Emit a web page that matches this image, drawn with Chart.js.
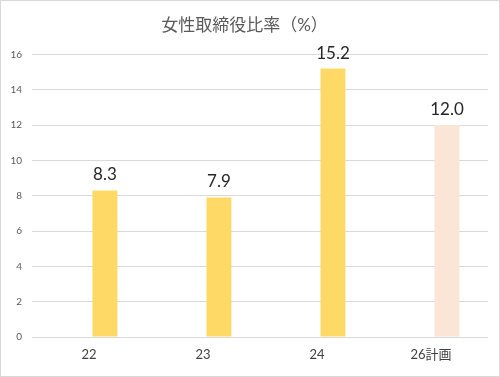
<!DOCTYPE html>
<html>
<head>
<meta charset="utf-8">
<script src="https://cdn.jsdelivr.net/npm/chart.js@4"></script>
<style>
  html, body { margin: 0; padding: 0; background: #fff; }
  #wrap { width: 500px; height: 377px; box-sizing: border-box; border: 1px solid #d9d9d9; position: relative; }
  canvas { position: absolute; left: 0; top: 0; }
</style>
</head>
<body>
<div id="wrap"><canvas id="chart" width="500" height="377"></canvas></div>
<script>
const categories = ["22", "23", "24", "26計画"];
const ratios = [8.3, 7.9, 15.2, 12.0];
const barColors = ["#FFD966", "#FFD966", "#FFD966", "#FBE5D6"];
const yTicks = [0, 2, 4, 6, 8, 10, 12, 14, 16];

const FONT = "Lato, 'Noto Sans CJK JP', sans-serif";

// draws the value above each bar
const valueLabels = {
    id: "valueLabels",
    afterDatasetsDraw(chart) {
        const ctx = chart.ctx;
        const meta = chart.getDatasetMeta(1);
        ctx.save();
        ctx.font = "17px " + FONT;
        ctx.fillStyle = "#262626";
        ctx.textAlign = "center";
        ctx.textBaseline = "bottom";
        meta.data.forEach((bar, i) => {
            ctx.fillText(ratios[i].toFixed(1), bar.x, bar.y - 7);
        });
        ctx.restore();
    }
};

new Chart(document.getElementById("chart"), {
    type: "bar",
    data: {
        labels: categories,
        datasets: [
            // empty slot: the original chart has the bars shifted right of the category centre
            { data: categories.map(() => null), categoryPercentage: 0.56, barPercentage: 0.78 },
            {
                data: ratios,
                backgroundColor: barColors,
                borderWidth: 0,
                categoryPercentage: 0.56,
                barPercentage: 0.78
            }
        ]
    },
    options: {
        responsive: false,
        animation: false,
        layout: { padding: { left: 0, right: 13, top: 0, bottom: 0 } },
        plugins: {
            legend: { display: false },
            tooltip: { enabled: false },
            title: {
                display: true,
                text: "女性取締役比率（%）",
                color: "#595959",
                font: { family: FONT, size: 17, weight: "normal" },
                padding: { top: 14, bottom: 19 }
            }
        },
        scales: {
            y: {
                min: 0,
                max: 16,
                afterBuildTicks: s => { s.ticks = yTicks.map(v => ({ value: v })); },
                afterFit: s => { s.width = 31; },
                ticks: { color: "#595959", font: { family: FONT, size: 10 }, padding: 10 },
                grid: { color: "#d9d9d9", lineWidth: 1, drawTicks: false },
                border: { display: false }
            },
            x: {
                afterFit: s => { s.height = 41; },
                ticks: { color: "#404040", font: { family: FONT, size: 13 }, padding: 2 },
                grid: { display: false },
                border: { display: false }
            }
        }
    },
    plugins: [valueLabels]
});
</script>
</body>
</html>
